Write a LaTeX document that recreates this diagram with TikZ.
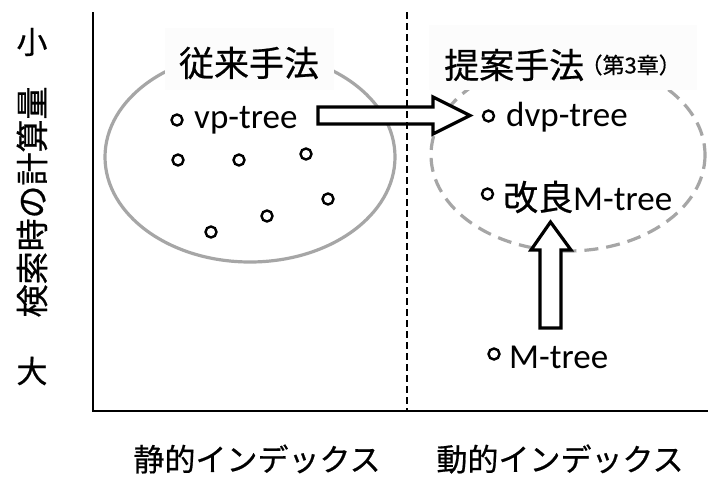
\documentclass[tikz,border=0pt]{standalone}
\usepackage{fontspec}
\setmainfont{Carlito}
\newfontfamily\jp[FakeBold=0.6]{Noto Sans CJK JP}
\begin{document}
\begin{tikzpicture}[x=1pt,y=-1pt,
  dot/.style={circle, draw=black, line width=2.4pt, minimum size=11pt, inner sep=0pt},
  lbl/.style={inner sep=0pt, font=\fontsize{35}{40}\selectfont},
  cjk/.style={inner sep=0pt, font=\fontsize{31}{36}\selectfont\jp},
  ttlfont/.style={inner sep=0pt, font=\fontsize{35}{40}\selectfont\jp},
  grp/.style={draw=black!35, line width=3.2pt},
  blockarrow/.style={draw=black, line width=3.2pt, fill=white, line join=miter},
  ttlbg/.style={fill=black!1}]
\useasboundingbox (0,0) rectangle (708,477);
\fill[white] (0,0) rectangle (708,477);

% groups
\draw[grp] (250,157) ellipse [x radius=145, y radius=105];
\draw[grp, dash pattern=on 14pt off 8pt] (568,155) ellipse [x radius=137, y radius=96];

% title backgrounds
\fill[ttlbg] (165,28) rectangle (334,90);
\fill[ttlbg] (429,25) rectangle (697,90);

% titles
\node[ttlfont] (t1) at (249,63) {従来手法};
\node[ttlfont, anchor=west] (t2) at (444,65) {提案手法};
\node[inner sep=0pt, font=\fontsize{22}{24}\selectfont\jp, anchor=west] (t2b) at ([xshift=-4pt]t2.east) {（第3章）};

% block arrows
\draw[blockarrow] (318,107) -- (433,107) -- (433,97) -- (470,115.5) -- (433,134) -- (433,124) -- (318,124) -- cycle;
\draw[blockarrow] (540,328) -- (540,250) -- (531,250) -- (550.5,222) -- (571,250) -- (561,250) -- (561,328) -- cycle;

% axes
\draw[line width=1.5pt, dash pattern=on 7pt off 4pt] (407,12) -- (407,411);
\draw[line width=1.3pt] (93,12) -- (93,411) -- (708,411);

% left items
\node[dot] (d0) at (177,120) {};
\node[lbl, anchor=west] (vp) at (194,120) {vp-tree};
\node[dot] (d1) at (178,160) {};
\node[dot] (d2) at (239,160) {};
\node[dot] (d3) at (306,154) {};
\node[dot] (d4) at (328,199) {};
\node[dot] (d5) at (267,216) {};
\node[dot] (d6) at (211,232) {};

% right items
\node[dot] (d7) at (488.5,116) {};
\node[lbl, anchor=west] (dvp) at (506,117) {dvp-tree};
\node[dot] (d8) at (487.5,194) {};
\node[lbl, anchor=west] (imp) at (503,197) {{\jp 改良}M-tree};
\node[dot] (d9) at (494,354) {};
\node[lbl, anchor=west] (mt) at (509,357) {M-tree};

% axis labels
\node[cjk] (small) at (32,42) {小};
\node[cjk, rotate=90, font=\fontsize{33}{36}\selectfont\jp] (ylab) at (32,202) {検索時の計算量};
\node[cjk] (large) at (32,371) {大};
\node[cjk] (xl1) at (257,459) {静的インデックス};
\node[cjk] (xl2) at (560,459) {動的インデックス};
\end{tikzpicture}
\end{document}
